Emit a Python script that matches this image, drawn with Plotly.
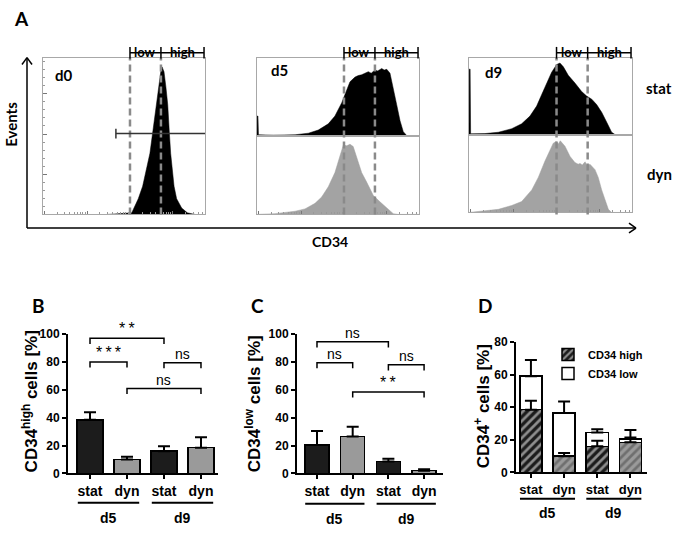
import numpy as np
import plotly.graph_objects as go

W, H = 675, 534


def px(x):
    return x / W


def py(y):
    return 1 - y / H


# ---------------- DATA ----------------
conditions = ["stat", "dyn", "stat", "dyn"]
days = ["d5", "d9"]
bar_pos = [0, 1, 2, 3]

cd34_high_mean = [38.5, 10.0, 16.0, 18.5]
cd34_high_sem = [5.5, 2.0, 3.5, 7.5]
cd34_low_mean = [20.5, 26.5, 8.5, 2.0]
cd34_low_sem = [10.0, 7.0, 2.0, 1.0]

# (bar a, bar b, bracket level, label)
sig_high = [(0, 2, 97, "**"), (0, 1, 80, "***"), (2, 3, 79.5, "ns"), (1, 3, 61, "ns")]
sig_low = [(0, 2, 94.5, "ns"), (0, 1, 79.5, "ns"), (2, 3, 78, "ns"), (1, 3, 58.5, "**")]

# flow-cytometry histograms: x = log CD34 channel (0-100), y = events
gates = [53.7, 72.8]
d0_marker = [45, 100, 201]

d0_x = [40, 47.5, 54.8, 58.8, 61.5, 66.0, 67.7, 70.2, 71.2, 72.7, 73.5, 74.7, 75.9,
        77.0, 78.0, 78.8, 80.9, 82.5, 85.6, 89.1, 93.8]
d0_y = [0, 2, 4, 39, 70, 152, 203, 273, 316, 355, 367, 355, 316,
        273, 203, 152, 70, 39, 16, 4, 0]

d5_stat_x = [0, 0.1, 0.6, 0.9, 10, 23.5, 31.7, 37.8, 44.0, 48.1, 52.3, 55.4, 57.4, 60.5,
             62.5, 64.6, 66.5, 68.7, 70.5, 72.8, 74.5, 77.0, 78.5, 80.1, 82.1, 84.2,
             86.2, 88.3, 90.3, 92.4, 100]
d5_stat_y = [0, 25, 25, 1, 0.5, 1, 3, 7, 15, 25, 42, 57, 69, 75,
             77, 78, 80, 82, 80, 84, 83, 86, 84, 85, 80, 61,
             40, 19, 5, 0, 0]

d5_dyn_x = [0, 11.1, 23.5, 29.6, 35.8, 39.9, 44.0, 48.1, 51.2, 53.3, 55.4, 57.4, 59.4,
            61.5, 64.6, 67.7, 71.8, 75.9, 80.1, 84.1, 87, 100]
d5_dyn_y = [0, 1, 4, 7, 14, 22, 35, 53, 74, 88, 87, 89, 86,
            72, 53, 41, 24, 16, 8, 1, 0, 0]

d9_stat_x = [0, 0.1, 0.7, 1.0, 9.8, 18.0, 26.2, 32.3, 37.4, 41.5, 44.6, 47.7, 50.7, 53.8,
             55.8, 57.9, 60.9, 65.0, 69.1, 72.2, 75.3, 78.3, 81.4, 84.5, 87.5, 89.6, 100]
d9_stat_y = [0, 85, 85, 1, 1.3, 3, 7.6, 14, 24, 37, 52, 67, 81, 91,
             93, 88, 77, 67, 56, 50, 46, 39, 29, 16, 3, 0, 0]

d9_dyn_x = [0, 9.8, 18.0, 26.2, 32.3, 38.5, 42.5, 46.6, 49.7, 51.7, 53.5, 54.8, 56.0,
            56.9, 58.9, 62.0, 65.0, 67.0, 68.1, 69.5, 71.2, 72.5, 74.2, 77.3, 79.3,
            81.4, 83.4, 85.5, 87.5, 100]
d9_dyn_y = [0, 2, 4, 9, 14, 29, 45, 66, 81, 89, 91, 88, 92,
            90, 85, 72, 64, 62, 63, 61, 65, 60, 62, 55, 45,
            29, 16, 4, 0, 0]

# ---------------- STYLE ----------------
LATO = "Lato, 'Open Sans', sans-serif"
ARIAL = "Arial, 'Liberation Sans', sans-serif"
STAT_C = "#1c1c1c"
DYN_C = "#9a9a9a"
HIST_DYN = "#a3a3a3"
FRAME = "#a8a8a8"
GATE_C = "#8a8a8a"
bar_colors = [STAT_C, DYN_C, STAT_C, DYN_C]

fig = go.Figure()

# ---------- histogram axes ----------
hist_boxes = {
    1: (43, 205, 52, 213),
    2: (257, 419, 52, 132),
    3: (257, 419, 132, 213),
    4: (469, 632, 52, 131),
    5: (469, 632, 131, 211),
}
decades = [0.7 + 26.5 * k for k in range(4)]
minor_x = [d + 26.5 * np.log10(m) for d in decades for m in range(2, 10) if d + 26.5 * np.log10(m) < 100]

for k, (x0, x1, yt, yb) in hist_boxes.items():
    bottom_ticks = k in (1, 3, 5)
    xa = dict(domain=[px(x0), px(x1)], range=[0, 100], anchor=f"y{k}",
              showline=True, mirror=True, linecolor=FRAME, linewidth=1,
              showgrid=False, zeroline=False, showticklabels=False,
              ticks="inside" if bottom_ticks else "", tickvals=decades if bottom_ticks else [],
              ticklen=3, tickcolor="#777", tickwidth=1)
    if bottom_ticks:
        xa["minor"] = dict(ticks="inside", tickvals=minor_x, ticklen=2, tickcolor="#999", tickwidth=1)
    ya = dict(domain=[py(yb), py(yt)], range=[0, 390] if k == 1 else [0, 100], anchor=f"x{k}",
              showline=True, mirror=True, linecolor=FRAME, linewidth=1,
              showgrid=False, zeroline=False, showticklabels=False)
    if k == 1:
        ya.update(ticks="inside", tickvals=[0, 100, 200, 300], ticklen=4, tickcolor="#777",
                  minor=dict(ticks="inside", dtick=20, ticklen=2, tickcolor="#999"))
    fig.update_layout(**{("xaxis" if k == 1 else f"xaxis{k}"): xa,
                         ("yaxis" if k == 1 else f"yaxis{k}"): ya})


def hist(x, y, color, k):
    ax = "" if k == 1 else str(k)
    fig.add_trace(go.Scatter(x=x, y=y, mode="lines", fill="tozeroy", fillcolor=color,
                             line=dict(color=color, width=0.5), xaxis="x" + ax, yaxis="y" + ax,
                             showlegend=False, hoverinfo="skip"))


hist(d0_x, d0_y, "black", 1)
hist(d5_stat_x, d5_stat_y, "black", 2)
hist(d5_dyn_x, d5_dyn_y, HIST_DYN, 3)
hist(d9_stat_x, d9_stat_y, "black", 4)
hist(d9_dyn_x, d9_dyn_y, HIST_DYN, 5)

shapes = []
annotations = []

# gates + low/high brackets
for xr in ("x", "x2", "x4"):
    for g in gates:
        shapes.append(dict(type="line", xref=xr, yref="paper", x0=g, x1=g, y0=py(213), y1=py(52),
                           line=dict(color=GATE_C, width=2.5, dash="7px,4px"), layer="above"))
    right = 99.4
    shapes.append(dict(type="line", xref=xr, yref="paper", x0=gates[0], x1=right, y0=py(47), y1=py(47),
                       line=dict(color="black", width=1.5)))
    for g in (gates[0], gates[1], right):
        shapes.append(dict(type="line", xref=xr, yref="paper", x0=g, x1=g, y0=py(41), y1=py(53),
                           line=dict(color="black", width=1.5)))
    annotations.append(dict(xref=xr, yref="paper", x=(gates[0] + gates[1]) / 2, y=py(36), text="low",
                            showarrow=False, font=dict(family=LATO, size=13, weight="bold", color="black")))
    annotations.append(dict(xref=xr, yref="paper", x=(gates[1] + 100) / 2, y=py(36), text="high",
                            showarrow=False, font=dict(family=LATO, size=13, weight="bold", color="black")))

# d0 range marker
shapes.append(dict(type="line", xref="x", yref="y", x0=d0_marker[0], x1=d0_marker[1], y0=d0_marker[2],
                   y1=d0_marker[2], line=dict(color="#333", width=1.5), layer="above"))
shapes.append(dict(type="line", xref="x", yref="y", x0=d0_marker[0], x1=d0_marker[0], y0=d0_marker[2] - 12,
                   y1=d0_marker[2] + 12, line=dict(color="#333", width=1.5), layer="above"))

# Events / CD34 axes arrows
for (xa0, ya0, xa1, ya1) in [(27, 227, 27, 52), (27, 227, 636, 227),
                             (22, 59, 27, 52), (32, 59, 27, 52),
                             (629, 222, 636, 227), (629, 232, 636, 227)]:
    shapes.append(dict(type="line", xref="paper", yref="paper", x0=px(xa0), y0=py(ya0), x1=px(xa1), y1=py(ya1),
                       line=dict(color="black", width=1.5)))


def txt(x, y, s, size, fam=LATO, bold=True, angle=0, xanchor="center"):
    annotations.append(dict(xref="paper", yref="paper", x=px(x), y=py(y), text=s, showarrow=False,
                            textangle=angle, xanchor=xanchor, yanchor="middle",
                            font=dict(family=fam, size=size, weight="bold" if bold else "normal", color="black")))


txt(21, 12, "A", 19)
txt(11, 120, "Events", 15, angle=-90)
txt(330, 241, "CD34", 14)
txt(64, 70, "d0", 15)
txt(279, 65, "d5", 15)
txt(493, 67, "d9", 15)
txt(659, 83, "stat", 15)
txt(659, 172, "dyn", 15)
txt(38, 307, "B", 19)
txt(257, 307, "C", 19)
txt(485, 307, "D", 19)
txt(30, 405, "CD34<sup>high</sup> cells [%]", 17, fam=ARIAL, angle=-90)
txt(253, 408, "CD34<sup>low</sup> cells [%]", 17, fam=ARIAL, angle=-90)
txt(482, 410, "CD34<sup>+</sup> cells [%]", 17, fam=ARIAL, angle=-90)

# ---------- bar panels ----------
bar_axes = {
    6: dict(x=(68, 218), y=(336, 479), xr=[-0.595, 3.46], yr=[0, 100], dtick=20, bw=0.7,
            line_y=509, lab_y=525, fs=14),
    7: dict(x=(297, 443), y=(336, 479), xr=[-0.56, 3.53], yr=[0, 100], dtick=20, bw=0.67,
            line_y=510, lab_y=526, fs=14),
    8: dict(x=(516, 647), y=(344, 478), xr=[-0.45, 3.5], yr=[0, 80], dtick=20, bw=0.67,
            line_y=505, lab_y=520, fs=13),
}
for k, a in bar_axes.items():
    fig.update_layout(**{
        f"xaxis{k}": dict(domain=[px(a["x"][0]), px(a["x"][1])], range=a["xr"], anchor=f"y{k}",
                          showline=True, linecolor="black", linewidth=2, showgrid=False, zeroline=False,
                          tickvals=bar_pos, ticktext=conditions, ticks="outside", ticklen=4, tickwidth=2,
                          tickcolor="black",
                          tickfont=dict(family=ARIAL, size=a["fs"], weight="bold", color="black")),
        f"yaxis{k}": dict(domain=[py(a["y"][1]), py(a["y"][0])], range=a["yr"], anchor=f"x{k}",
                          showline=True, linecolor="black", linewidth=2, showgrid=False, zeroline=False,
                          dtick=a["dtick"], ticks="outside", ticklen=4, tickwidth=2, tickcolor="black",
                          tickfont=dict(family=ARIAL, size=12, weight="bold", color="black")),
    })
    for gi, day in enumerate(days):
        b0, b1 = bar_pos[2 * gi], bar_pos[2 * gi + 1]
        shapes.append(dict(type="line", xref=f"x{k}", yref="paper", x0=b0 - 0.33, x1=b1 + 0.33,
                           y0=py(a["line_y"]), y1=py(a["line_y"]), line=dict(color="black", width=2)))
        annotations.append(dict(xref=f"x{k}", yref="paper", x=(b0 + b1) / 2, y=py(a["lab_y"]), text=day,
                                showarrow=False, yanchor="middle",
                                font=dict(family=ARIAL, size=14, weight="bold", color="black")))


def err_trace(yvals, errs, k):
    fig.add_trace(go.Scatter(x=bar_pos, y=yvals, mode="markers", marker=dict(size=1, color="rgba(0,0,0,0)"),
                             error_y=dict(type="data", array=errs, arrayminus=[0] * len(errs), symmetric=False,
                                          color="black", thickness=2, width=6),
                             xaxis=f"x{k}", yaxis=f"y{k}", showlegend=False, hoverinfo="skip"))


def sig(lst, k):
    for a0, a1, lvl, lab in lst:
        fig.add_trace(go.Scatter(x=[bar_pos[a0], bar_pos[a0], bar_pos[a1], bar_pos[a1]],
                                 y=[lvl - 4, lvl, lvl, lvl - 4], mode="lines",
                                 line=dict(color="black", width=1.5), xaxis=f"x{k}", yaxis=f"y{k}",
                                 showlegend=False, hoverinfo="skip"))
        shown = "\u2009".join(lab) if "*" in lab else lab
        annotations.append(dict(xref=f"x{k}", yref=f"y{k}", x=(bar_pos[a0] + bar_pos[a1]) / 2, y=lvl,
                                text=shown, showarrow=False, yanchor="bottom", yshift=-1,
                                font=dict(family=ARIAL, size=16 if "*" in lab else 14, color="black")))


# B
fig.add_trace(go.Bar(x=bar_pos, y=cd34_high_mean, width=bar_axes[6]["bw"],
                     marker=dict(color=bar_colors, line=dict(color="black", width=1.5)),
                     xaxis="x6", yaxis="y6", showlegend=False))
err_trace(cd34_high_mean, cd34_high_sem, 6)
sig(sig_high, 6)

# C
fig.add_trace(go.Bar(x=bar_pos, y=cd34_low_mean, width=bar_axes[7]["bw"],
                     marker=dict(color=bar_colors, line=dict(color="black", width=1.5)),
                     xaxis="x7", yaxis="y7", showlegend=False))
err_trace(cd34_low_mean, cd34_low_sem, 7)
sig(sig_low, 7)

# D (stacked)
fig.add_trace(go.Bar(x=bar_pos, y=cd34_high_mean, width=bar_axes[8]["bw"], name="CD34 high",
                     marker=dict(color=bar_colors, line=dict(color="black", width=1.5),
                                 pattern=dict(shape="/", fgcolor="white", bgcolor=bar_colors, size=6,
                                              solidity=0.45)),
                     xaxis="x8", yaxis="y8", showlegend=True))
fig.add_trace(go.Bar(x=bar_pos, y=cd34_low_mean, width=bar_axes[8]["bw"], name="CD34 low",
                     marker=dict(color="white", line=dict(color="black", width=1.5)),
                     xaxis="x8", yaxis="y8", showlegend=True))
err_trace(cd34_high_mean, cd34_high_sem, 8)
total = [h + l for h, l in zip(cd34_high_mean, cd34_low_mean)]
err_trace(total, cd34_low_sem, 8)

fig.update_layout(
    width=W, height=534, margin=dict(l=0, r=0, t=0, b=0),
    paper_bgcolor="white", plot_bgcolor="white",
    barmode="stack", showlegend=True,
    legend=dict(x=px(548), y=py(342), xanchor="left", yanchor="top", bgcolor="rgba(0,0,0,0)",
                traceorder="normal", tracegroupgap=0,
                font=dict(family=ARIAL, size=11, weight="bold", color="black")),
    shapes=shapes, annotations=annotations,
)

fig.write_html("out.html", config={"displayModeBar": False},
               post_script="document.body.style.margin='0px';document.body.style.padding='0px';")
